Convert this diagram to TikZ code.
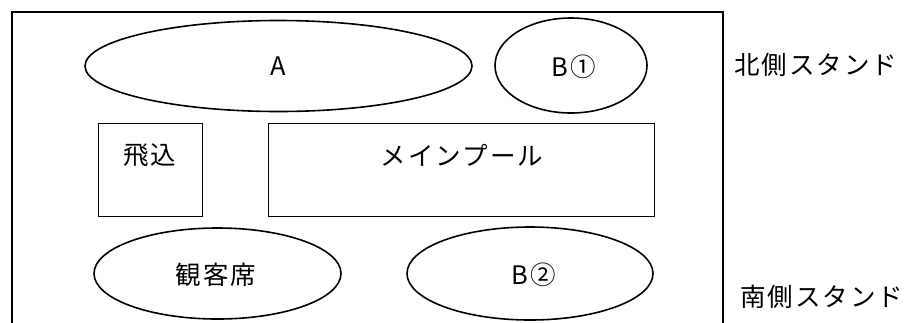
\documentclass[tikz,border=0pt]{standalone}
\usepackage{fontspec}
\setmainfont{Noto Sans CJK JP}[LetterSpace=8]
\usetikzlibrary{shapes.geometric}
\begin{document}
\begin{tikzpicture}[x=1pt,y=-1pt,
  every node/.style={font=\fontsize{25.5}{30}\selectfont},
  oval/.style={draw,ellipse,line width=1.6pt,inner sep=0pt},
  box/.style={draw,rectangle,line width=0.8pt,inner sep=0pt},
  lbl/.style={inner sep=0pt}]
\useasboundingbox (0,0) rectangle (909,322);
\draw[line width=1.6pt] (12,330) -- (12,12) -- (723,12) -- (723,330);
\node[oval,minimum width=387pt,minimum height=91pt] (A) at (278.5,66) {};
\node[lbl] at (278,66.5) {A};
\node[oval,minimum width=152pt,minimum height=95pt] (B1) at (571,65.5) {};
\node[lbl] at (574,67) {B\kern2pt①};
\node[box,minimum width=104pt,minimum height=93pt] (tobi) at (150,169.5) {};
\node[lbl] at (150,155) {飛込};
\node[box,minimum width=386pt,minimum height=93pt] (main) at (461,169.5) {};
\node[lbl] at (462,155) {メインプール};
\node[oval,minimum width=247pt,minimum height=91pt] (kan) at (217.5,273.5) {};
\node[lbl] at (216,275) {観客席};
\node[oval,minimum width=246pt,minimum height=93pt] (B2) at (530,273.5) {};
\node[lbl] at (534,275) {B\kern2pt②};
\node[lbl,anchor=west] (north) at (734,65) {北側スタンド};
\node[lbl,anchor=west] (south) at (740,297) {南側スタンド};
\end{tikzpicture}
\end{document}
